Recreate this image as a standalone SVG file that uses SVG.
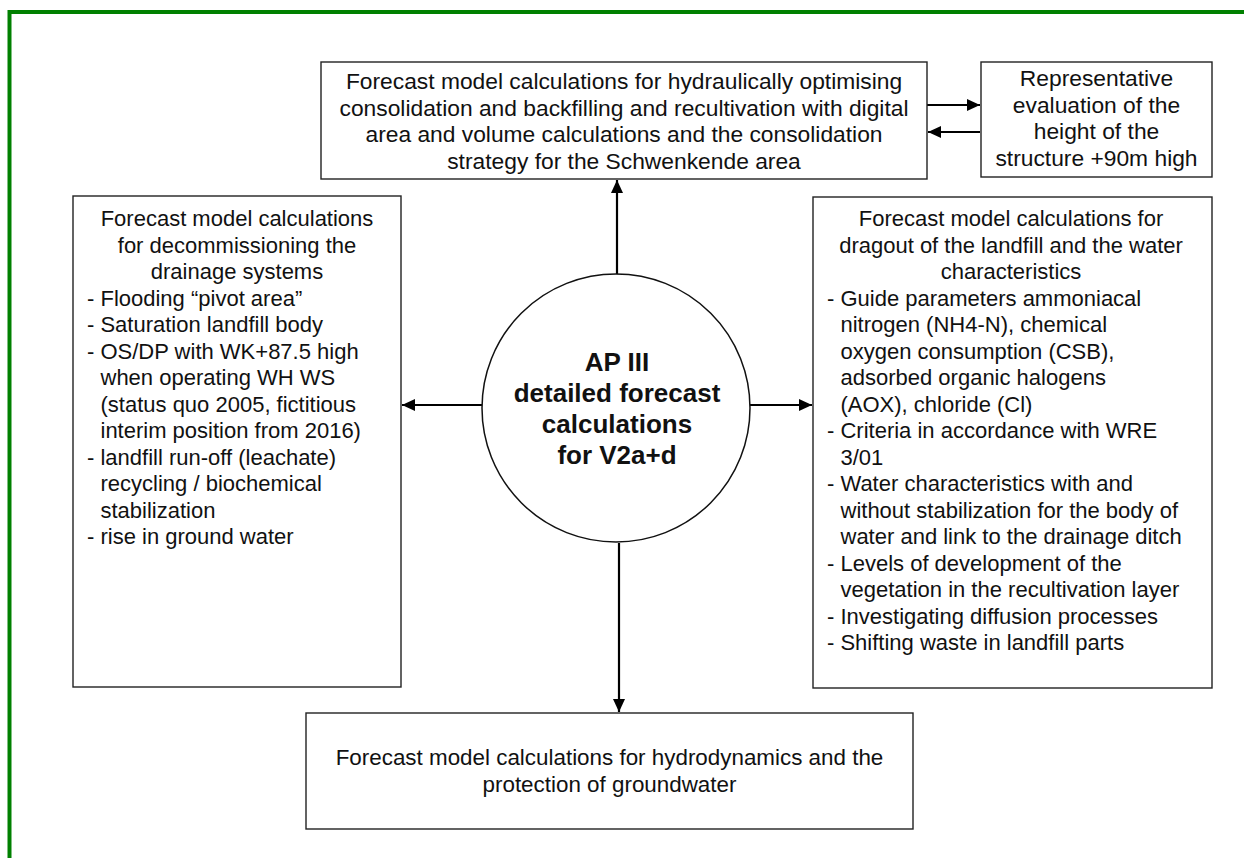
<svg xmlns="http://www.w3.org/2000/svg" width="1244" height="858" viewBox="0 0 1244 858">
<style>
.box{fill:#fff;stroke:#222;stroke-width:1.4}
.t{font-family:"Liberation Sans",Arial,sans-serif;font-size:22px;fill:#111}
.big{font-size:22.8px}
.mid{font-size:22.4px}
.c{text-anchor:middle}
.b{font-family:"Liberation Sans",Arial,sans-serif;font-size:26px;font-weight:bold;fill:#111;text-anchor:middle}
.con{stroke:#000;stroke-width:2.2;fill:none;marker-end:url(#ah)}
</style>
<defs>
<marker id="ah" markerUnits="userSpaceOnUse" markerWidth="14" markerHeight="12" refX="13" refY="6" orient="auto">
<path d="M0,0 L13,6 L0,12 z" fill="#000"/>
</marker>
</defs>
<rect x="9.5" y="12" width="1300" height="900" fill="#fff" stroke="#008000" stroke-width="4"/>
<g id="connectors">
<line class="con" x1="617" y1="274" x2="617" y2="180"/>
<line class="con" x1="619" y1="543" x2="619" y2="712"/>
<line class="con" x1="482" y1="405" x2="402" y2="405"/>
<line class="con" x1="750" y1="405" x2="812" y2="405"/>
<line class="con" x1="927" y1="105" x2="980" y2="105"/>
<line class="con" x1="980" y1="132" x2="928" y2="132"/>
</g>
<g id="top">
<rect class="box" x="321" y="62" width="606" height="117"/>
<text class="t big c" x="624" y="89">Forecast model calculations for hydraulically optimising</text>
<text class="t big c" x="624" y="115.5">consolidation and backfilling and recultivation with digital</text>
<text class="t big c" x="624" y="142">area and volume calculations and the consolidation</text>
<text class="t big c" x="624" y="168.5">strategy for the Schwenkende area</text>
</g>
<g id="height">
<rect class="box" x="981" y="62" width="231" height="115"/>
<text class="t big c" x="1096.5" y="86">Representative</text>
<text class="t big c" x="1096.5" y="112.5">evaluation of the</text>
<text class="t big c" x="1096.5" y="139">height of the</text>
<text class="t big c" x="1096.5" y="165.5">structure +90m high</text>
</g>
<g id="left">
<rect class="box" x="73" y="196" width="328" height="491"/>
<text class="t c" x="237" y="226">Forecast model calculations</text>
<text class="t c" x="237" y="252.5">for decommissioning the</text>
<text class="t c" x="237" y="279">drainage systems</text>
<text class="t" x="87" y="305.5">- Flooding “pivot area”</text>
<text class="t" x="87" y="332">- Saturation landfill body</text>
<text class="t" x="87" y="358.5">- OS/DP with WK+87.5 high</text>
<text class="t" x="100.5" y="385">when operating WH WS</text>
<text class="t" x="100.5" y="411.5">(status quo 2005, fictitious</text>
<text class="t" x="100.5" y="438">interim position from 2016)</text>
<text class="t" x="87" y="464.5">- landfill run-off (leachate)</text>
<text class="t" x="100.5" y="491">recycling / biochemical</text>
<text class="t" x="100.5" y="517.5">stabilization</text>
<text class="t" x="87" y="544">- rise in ground water</text>
</g>
<g id="center">
<circle cx="616" cy="408" r="134" fill="#fff" stroke="#111" stroke-width="1.5"/>
<text class="b" x="617" y="371">AP III</text>
<text class="b" x="617" y="402">detailed forecast</text>
<text class="b" x="617" y="433">calculations</text>
<text class="b" x="617" y="464">for V2a+d</text>
</g>
<g id="right">
<rect class="box" x="813" y="197" width="399" height="491"/>
<text class="t c" x="1011" y="226">Forecast model calculations for</text>
<text class="t c" x="1011" y="252.5">dragout of the landfill and the water</text>
<text class="t c" x="1011" y="279">characteristics</text>
<text class="t" x="827" y="305.5">- Guide parameters ammoniacal</text>
<text class="t" x="840.5" y="332">nitrogen (NH4-N), chemical</text>
<text class="t" x="840.5" y="358.5">oxygen consumption (CSB),</text>
<text class="t" x="840.5" y="385">adsorbed organic halogens</text>
<text class="t" x="840.5" y="411.5">(AOX), chloride (Cl)</text>
<text class="t" x="827" y="438">- Criteria in accordance with WRE</text>
<text class="t" x="840.5" y="464.5">3/01</text>
<text class="t" x="827" y="491">- Water characteristics with and</text>
<text class="t" x="840.5" y="517.5">without stabilization for the body of</text>
<text class="t" x="840.5" y="544">water and link to the drainage ditch</text>
<text class="t" x="827" y="570.5">- Levels of development of the</text>
<text class="t" x="840.5" y="597">vegetation in the recultivation layer</text>
<text class="t" x="827" y="623.5">- Investigating diffusion processes</text>
<text class="t" x="827" y="650">- Shifting waste in landfill parts</text>
</g>
<g id="bottom">
<rect class="box" x="306" y="713" width="607" height="116"/>
<text class="t mid c" x="609.5" y="765">Forecast model calculations for hydrodynamics and the</text>
<text class="t mid c" x="609.5" y="791.5">protection of groundwater</text>
</g>
</svg>
